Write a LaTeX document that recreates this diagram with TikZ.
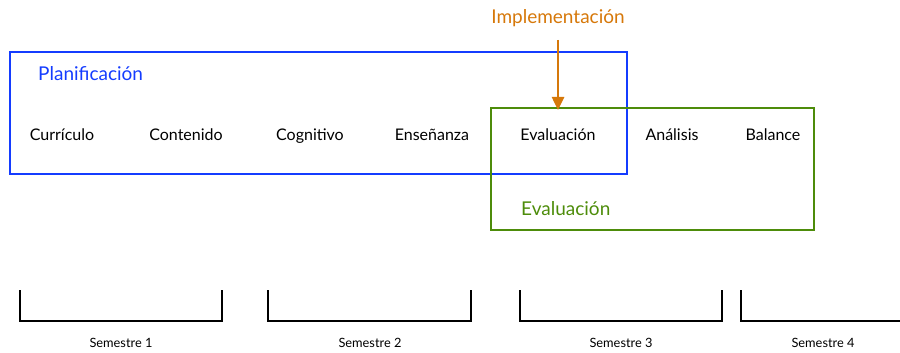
\documentclass[tikz,border=0pt]{standalone}
\usepackage{fontspec}
\setmainfont{Lato}
\usetikzlibrary{arrows.meta}
\definecolor{planblue}{RGB}{20,60,255}
\definecolor{evalgreen}{RGB}{77,140,10}
\definecolor{implorange}{RGB}{214,120,10}
\tikzset{
  item/.style={font=\fontsize{16}{18}\selectfont, text=black, anchor=base},
  sem/.style={font=\fontsize{12.8}{15}\selectfont, text=black, anchor=base},
  title/.style={font=\fontsize{19}{22}\selectfont},
  bracketline/.style={draw=black, line width=1.3pt},
}
\begin{document}
\begin{tikzpicture}[x=1pt,y=-1pt]
\useasboundingbox (0,0) rectangle (900,353);
% boxes
\draw[planblue, line width=2.5pt] (10,52) rectangle (627,174);
\draw[evalgreen, line width=2.5pt] (491,108) rectangle (814,230);
% titles
\node[title, text=planblue, anchor=west, inner sep=0pt] (plan) at (38,74) {Planificación};
\node[title, text=evalgreen, anchor=west, inner sep=0pt] (evalt) at (521,209) {Evaluación};
\node[title, text=implorange] (impl) at (558,18) {Implementación};
% items
\node[item] (cur) at (62,140) {Currículo};
\node[item] (con) at (186,140) {Contenido};
\node[item] (cog) at (310,140) {Cognitivo};
\node[item] (ens) at (432,140) {Enseñanza};
\node[item] (eva) at (558,140) {Evaluación};
\node[item] (ana) at (672,140) {Análisis};
\node[item] (bal) at (773,140) {Balance};
% arrow
\coordinate (astart) at (558,40);
\coordinate (atip) at (558,110);
\draw[implorange, line width=2.5pt, -{Triangle[length=13pt,width=12pt]}] (astart) -- (atip);
% brackets
\draw[bracketline] (20,290) -- (20,321) -- (222,321) -- (222,290);
\draw[bracketline] (268,290) -- (268,321) -- (471,321) -- (471,290);
\draw[bracketline] (520,290) -- (520,321) -- (722,321) -- (722,290);
\draw[bracketline] (741,290) -- (741,321) -- (900,321);
% semester labels
\node[sem] (s1) at (121,347) {Semestre 1};
\node[sem] (s2) at (370,347) {Semestre 2};
\node[sem] (s3) at (621,347) {Semestre 3};
\node[sem] (s4) at (823,347) {Semestre 4};
\end{tikzpicture}
\end{document}
